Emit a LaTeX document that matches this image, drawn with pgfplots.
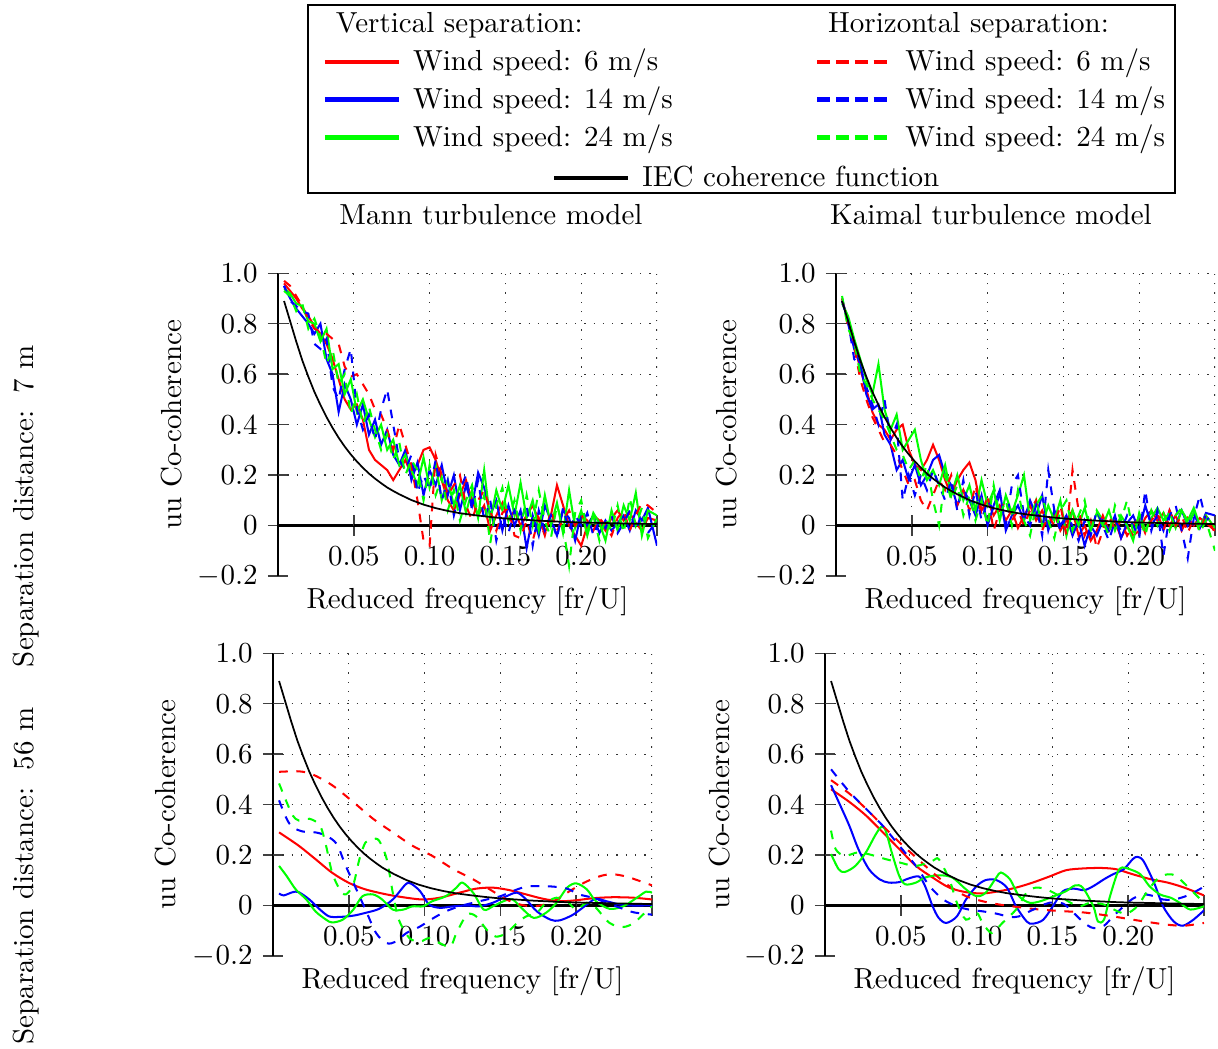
\documentclass[border=0pt]{standalone}
\usepackage{pgfplots}
\usepackage{pgfplotstable}
\pgfplotsset{compat=1.18}

\definecolor{cR}{rgb}{1,0,0}
\definecolor{cB}{rgb}{0,0,1}
\definecolor{cG}{rgb}{0,1,0}

% IEC coherence function
\pgfplotstableread{
x iec
0.004 0.89
0.008 0.81
0.012 0.73
0.016 0.655
0.020 0.59
0.024 0.53
0.028 0.478
0.032 0.43
0.036 0.387
0.040 0.348
0.044 0.313
0.048 0.282
0.052 0.254
0.056 0.229
0.060 0.206
0.064 0.186
0.068 0.168
0.072 0.151
0.076 0.137
0.080 0.124
0.088 0.101
0.096 0.083
0.104 0.069
0.112 0.058
0.120 0.049
0.130 0.041
0.140 0.034
0.150 0.028
0.160 0.024
0.170 0.020
0.180 0.017
0.190 0.014
0.200 0.012
0.215 0.010
0.230 0.008
0.250 0.006
}\iectab

% Mann, 7 m
\pgfplotstableread{
x rv bv gv rh bh gh
0.004 0.96 0.95 0.94 0.97 0.95 0.93
0.008 0.93 0.90 0.92 0.95 0.89 0.91
0.012 0.90 0.86 0.88 0.91 0.87 0.85
0.016 0.86 0.83 0.87 0.87 0.85 0.88
0.020 0.83 0.80 0.81 0.82 0.84 0.78
0.024 0.79 0.76 0.80 0.78 0.72 0.82
0.028 0.76 0.80 0.73 0.77 0.70 0.75
0.032 0.72 0.66 0.78 0.76 0.74 0.64
0.036 0.66 0.60 0.62 0.74 0.55 0.70
0.040 0.58 0.45 0.64 0.72 0.50 0.56
0.044 0.50 0.56 0.52 0.63 0.62 0.60
0.048 0.46 0.50 0.58 0.59 0.70 0.44
0.052 0.48 0.40 0.45 0.60 0.46 0.52
0.056 0.42 0.48 0.50 0.56 0.38 0.40
0.060 0.30 0.36 0.42 0.52 0.44 0.47
0.064 0.26 0.42 0.35 0.46 0.34 0.38
0.068 0.24 0.32 0.40 0.44 0.46 0.30
0.072 0.22 0.38 0.30 0.38 0.54 0.36
0.076 0.18 0.28 0.34 0.30 0.40 0.26
0.080 0.22 0.24 0.24 0.40 0.26 0.33
0.084 0.26 0.30 0.28 0.32 0.22 0.20
0.088 0.20 0.18 0.22 0.24 0.28 0.26
0.092 0.24 0.25 0.16 0.10 0.13 0.22
0.096 0.30 0.12 0.27 -0.06 0.20 0.10
0.100 0.31 0.22 0.15 -0.08 0.14 0.24
0.104 0.26 0.16 0.24 0.28 0.26 0.12
0.108 0.18 0.24 0.10 0.20 0.10 0.19
0.112 0.10 0.12 0.18 0.12 0.18 0.06
0.116 0.06 0.20 0.08 0.16 0.04 0.14
0.120 0.12 0.06 0.16 0.20 0.14 0.02
0.124 0.18 0.16 0.05 0.08 0.20 0.10
0.128 0.10 0.08 0.14 0.02 0.06 0.16
0.132 0.04 0.21 0.03 0.10 0.18 0.04
0.136 0.08 0.15 0.22 0.14 0.02 0.12
0.140 -0.02 0.04 0.02 0.06 0.10 -0.07
0.144 0.04 0.10 0.14 -0.02 -0.06 0.08
0.148 0.09 -0.02 0.06 0.05 0.04 0.15
0.152 0.02 0.08 0.16 0.07 -0.03 0.02
0.156 0.06 0.00 0.04 -0.04 0.06 0.10
0.160 0.00 0.06 0.17 -0.05 0.02 -0.02
0.164 0.04 -0.09 0.03 0.02 0.08 0.12
0.168 0.08 0.04 0.10 -0.06 -0.08 0.00
0.172 0.02 -0.04 -0.02 0.03 0.06 0.14
0.176 -0.03 0.08 0.12 -0.04 -0.02 0.02
0.180 0.04 0.02 0.00 0.06 0.04 -0.05
0.184 0.16 -0.04 0.09 -0.02 -0.05 0.08
0.188 0.08 0.06 -0.03 0.02 0.07 0.00
0.192 0.00 0.03 0.14 0.06 -0.02 -0.16
0.196 -0.04 -0.06 -0.01 0.00 0.04 0.05
0.200 -0.08 0.05 0.06 0.04 0.00 0.10
0.204 0.00 0.00 -0.04 0.02 0.05 -0.02
0.208 0.04 0.04 0.05 -0.02 -0.04 0.04
0.212 0.02 -0.03 0.01 0.03 0.02 -0.06
0.216 -0.02 0.02 -0.06 0.00 -0.01 0.03
0.220 0.03 -0.02 0.06 -0.04 0.04 -0.02
0.224 0.06 0.01 -0.02 0.03 -0.03 0.08
0.228 0.02 0.04 0.08 0.06 0.01 -0.03
0.232 0.05 -0.02 0.02 -0.02 0.06 0.11
0.236 0.01 0.06 0.13 0.04 -0.02 0.00
0.240 -0.02 0.02 -0.04 0.09 0.05 0.07
0.244 0.03 0.07 0.06 0.08 -0.03 -0.05
0.250 0.02 -0.08 0.04 0.05 0.02 0.03
}\tabML

% Kaimal, 7 m
\pgfplotstableread{
x rv bv gv rh bh gh
0.004 0.89 0.90 0.88 0.90 0.89 0.91
0.008 0.82 0.80 0.83 0.79 0.81 0.78
0.012 0.72 0.70 0.74 0.71 0.66 0.73
0.016 0.62 0.64 0.66 0.58 0.63 0.60
0.020 0.54 0.52 0.58 0.50 0.55 0.56
0.024 0.45 0.46 0.52 0.43 0.48 0.50
0.028 0.40 0.48 0.64 0.38 0.40 0.46
0.032 0.38 0.36 0.46 0.33 0.50 0.42
0.036 0.34 0.32 0.38 0.32 0.34 0.36
0.040 0.38 0.22 0.44 0.28 0.40 0.30
0.044 0.40 0.26 0.30 0.22 0.10 0.28
0.048 0.30 0.18 0.34 0.16 0.20 0.22
0.052 0.24 0.24 0.38 0.18 0.12 0.26
0.056 0.22 0.16 0.26 0.10 0.20 0.18
0.060 0.26 0.20 0.18 0.06 0.14 0.24
0.064 0.32 0.26 0.22 0.12 0.22 0.10
0.068 0.26 0.28 0.16 0.18 0.16 0.00
0.072 0.18 0.20 0.24 0.14 0.10 0.20
0.076 0.12 0.16 0.12 0.20 0.18 0.10
0.080 0.18 0.08 0.20 0.08 0.06 0.16
0.084 0.22 0.14 0.10 0.14 0.18 0.04
0.088 0.25 0.10 0.16 0.06 0.04 0.12
0.092 0.18 0.04 0.06 0.16 0.14 0.02
0.096 0.06 0.12 0.18 0.04 0.02 0.10
0.100 0.10 0.00 0.08 0.12 0.10 0.00
0.104 0.04 0.08 0.14 -0.02 0.06 0.16
0.108 0.08 0.14 0.02 0.06 0.12 0.04
0.112 0.02 -0.02 0.12 0.10 0.00 0.10
0.116 0.06 0.04 0.05 0.02 0.16 0.00
0.120 -0.01 0.08 0.12 0.06 0.20 0.14
0.124 0.04 0.02 0.20 0.00 0.04 0.02
0.128 0.08 0.10 0.02 0.06 0.00 -0.04
0.132 0.02 0.04 0.10 0.10 0.08 0.08
0.136 0.06 0.12 0.00 -0.02 -0.04 0.12
0.140 0.00 -0.02 0.08 0.04 0.22 0.02
0.144 0.05 0.06 0.02 0.00 0.06 -0.05
0.148 -0.02 0.00 0.10 0.08 -0.02 0.06
0.152 0.02 0.04 -0.04 -0.04 0.04 0.10
0.156 0.06 -0.04 0.06 0.22 0.00 -0.02
0.160 -0.04 0.02 0.00 0.06 -0.06 0.04
0.164 0.00 -0.08 0.07 -0.04 0.02 0.10
0.168 -0.06 0.00 -0.02 0.02 -0.04 -0.02
0.172 -0.02 -0.04 0.05 -0.09 0.06 0.06
0.176 0.04 0.02 0.00 -0.02 0.00 0.02
0.180 -0.02 -0.02 0.06 0.04 -0.06 -0.04
0.184 0.02 0.04 -0.02 -0.02 0.02 0.08
0.188 -0.05 -0.05 0.04 0.02 -0.02 0.02
0.192 0.00 0.01 0.00 -0.04 0.04 0.10
0.196 -0.04 0.04 -0.06 0.00 0.00 -0.03
0.200 -0.02 -0.02 0.05 0.03 -0.05 0.04
0.204 0.03 0.08 -0.02 -0.03 0.14 -0.04
0.208 0.06 0.00 0.03 0.02 -0.02 0.06
0.212 0.02 0.04 0.07 0.05 0.06 0.00
0.216 0.05 -0.02 0.02 -0.02 -0.12 0.05
0.220 0.00 0.06 0.05 0.06 0.04 -0.02
0.224 0.04 0.00 -0.01 0.00 0.08 0.04
0.228 -0.02 0.06 0.06 0.04 -0.02 0.07
0.232 0.03 0.00 0.02 -0.03 -0.13 0.00
0.236 0.00 0.05 0.07 0.03 0.03 0.05
0.240 0.03 -0.01 0.00 -0.02 0.12 -0.03
0.244 0.01 0.05 0.04 0.04 0.02 0.02
0.250 -0.02 0.04 -0.01 -0.03 0.05 -0.10
}\tabKL

\pgfplotsset{
  cohaxis/.style={
    scale only axis, width=130.7pt, height=104.4pt,
    xmin=0, xmax=0.25, ymin=-0.2, ymax=1.0,
    axis x line*=middle, axis y line*=left,
    x axis line style={line width=1.2pt},
    y axis line style={line width=0.8pt},
    xtick={0.05,0.1,0.15,0.2,0.25},
    xticklabels={0.05,0.10,0.15,0.20,},
    ytick={-0.2,0,0.2,0.4,0.6,0.8,1.0},
    yticklabels={$-0.2$,0,0.2,0.4,0.6,0.8,1.0},
    tick align=center, major tick length=7pt,
    major tick style={black!75, line width=0.5pt},
    hide obscured x ticks=false, hide obscured y ticks=false,
    xlabel={Reduced frequency [fr/U]}, ylabel={uu Co-coherence},
    every axis x label/.style={at={(axis description cs:0.5,0)}, anchor=north},
    legend image code/.code={\draw[##1] (0cm,0cm) -- (0.9cm,0cm);},
    every axis plot/.append style={line width=0.7pt},
  },
  ylabpos/.style={every axis y label/.style={at={(axis description cs:#1,0.5)}, rotate=90, anchor=base}},
}

\newcommand{\cohgrid}{%
  \pgfplotsinvokeforeach{0.05,0.1,0.15,0.2,0.25}{\draw[black!80, line width=0.45pt, dash pattern=on 0.45pt off 2.75pt] (axis cs:##1,0) -- (axis cs:##1,1);}%
  \pgfplotsinvokeforeach{0.2,0.4,0.6,0.8,1.0}{\draw[black!80, line width=0.45pt, dash pattern=on 0.45pt off 2.75pt] (axis cs:0,##1) -- (axis cs:0.25,##1);}%
}

\begin{document}
\begin{tikzpicture}[x=0.344828pt, y=0.344828pt]
\useasboundingbox (0,0) rectangle (1218,1048);
\coordinate (TL) at (278,472);
\coordinate (TR) at (836,472);
\coordinate (BL) at (273,92);
\coordinate (BR) at (825,92);

% ---------------- top left: Mann, 7 m
\begin{axis}[cohaxis, ylabpos=-0.2533, at={(TL)}, anchor=south west,
  legend columns=2, legend cell align=left,
  legend style={draw=none, fill=none, inner sep=0pt, at={(0.1161,1.8812)}, anchor=north west,
    /tikz/every odd column/.append style={column sep=2pt},
    /tikz/every even column/.append style={column sep=47pt}, row sep=0pt}]
\cohgrid
\addlegendimage{empty legend}\addlegendentry{\hspace*{-26.6pt}Vertical separation:}
\addlegendimage{empty legend}\addlegendentry{\hspace*{-26.6pt}Horizontal separation:}
\addlegendimage{cR, line width=1.6pt}\addlegendentry{Wind speed: 6 m/s}
\addlegendimage{cR, line width=1.6pt, dash pattern=on 4.5pt off 2pt}\addlegendentry{Wind speed: 6 m/s}
\addlegendimage{cB, line width=1.6pt}\addlegendentry{Wind speed: 14 m/s}
\addlegendimage{cB, line width=1.6pt, dash pattern=on 4.5pt off 2pt}\addlegendentry{Wind speed: 14 m/s}
\addlegendimage{cG, line width=1.6pt}\addlegendentry{Wind speed: 24 m/s}
\addlegendimage{cG, line width=1.6pt, dash pattern=on 4.5pt off 2pt}\addlegendentry{Wind speed: 24 m/s}
\addplot[cR, forget plot] table[x=x, y=rv] {\tabML};
\addplot[cB, forget plot] table[x=x, y=bv] {\tabML};
\addplot[cG, forget plot] table[x=x, y=gv] {\tabML};
\addplot[cR, dashed, forget plot] table[x=x, y=rh] {\tabML};
\addplot[cB, dashed, forget plot] table[x=x, y=bh] {\tabML};
\addplot[cG, dashed, forget plot] table[x=x, y=gh] {\tabML};
\addplot[black, line width=0.6pt, forget plot] table[x=x, y=iec] {\iectab};
\end{axis}

% ---------------- top right: Kaimal, 7 m
\begin{axis}[cohaxis, ylabpos=-0.2627, at={(TR)}, anchor=south west,
  legend style={draw=none, fill=none, inner sep=0pt, at={(-0.7513,1.3762)}, anchor=north west,
    /tikz/every odd column/.append style={column sep=2pt}}]
\cohgrid
\addlegendimage{black, line width=1.6pt}\addlegendentry{IEC coherence function}
\addplot[cR, forget plot] table[x=x, y=rv] {\tabKL};
\addplot[cB, forget plot] table[x=x, y=bv] {\tabKL};
\addplot[cG, forget plot] table[x=x, y=gv] {\tabKL};
\addplot[cR, dashed, forget plot] table[x=x, y=rh] {\tabKL};
\addplot[cB, dashed, forget plot] table[x=x, y=bh] {\tabKL};
\addplot[cG, dashed, forget plot] table[x=x, y=gh] {\tabKL};
\addplot[black, line width=0.6pt, forget plot] table[x=x, y=iec] {\iectab};
\end{axis}

% ---------------- bottom left: Mann, 56 m
\begin{axis}[cohaxis, ylabpos=-0.256, at={(BL)}, anchor=south west]
\cohgrid
\addplot[cR, smooth] coordinates {(0.004,0.29) (0.017,0.237) (0.028,0.184) (0.039,0.13) (0.05,0.09) (0.061,0.064) (0.075,0.044) (0.088,0.031) (0.099,0.024) (0.11,0.031) (0.123,0.051) (0.134,0.067) (0.145,0.071) (0.156,0.061) (0.167,0.044) (0.178,0.027) (0.189,0.017) (0.2,0.021) (0.211,0.029) (0.224,0.033) (0.238,0.031) (0.25,0.024)};
\addplot[cB, smooth] coordinates {(0.004,0.048) (0.007,0.04) (0.013,0.053) (0.017,0.053) (0.024,0.024) (0.031,-0.016) (0.037,-0.043) (0.044,-0.045) (0.053,-0.04) (0.061,-0.029) (0.07,-0.013) (0.079,0.024) (0.0875,0.084) (0.091,0.087) (0.097,0.057) (0.103,0.004) (0.11,-0.009) (0.119,-0.003) (0.128,0) (0.136,-0.003) (0.145,0.011) (0.154,0.037) (0.161,0.051) (0.167,0.024) (0.174,-0.023) (0.183,-0.056) (0.189,-0.059) (0.198,-0.036) (0.207,0.004) (0.213,0.027) (0.22,0.017) (0.229,0.004) (0.238,0) (0.25,0.001)};
\addplot[cG, smooth] coordinates {(0.004,0.157) (0.009,0.117) (0.015,0.064) (0.022,0.024) (0.028,-0.023) (0.035,-0.056) (0.039,-0.067) (0.046,-0.056) (0.053,-0.016) (0.059,0.037) (0.066,0.044) (0.072,0.024) (0.079,-0.016) (0.086,-0.016) (0.092,-0.003) (0.099,-0.003) (0.105,0.017) (0.114,0.037) (0.121,0.071) (0.125,0.091) (0.132,0.051) (0.139,-0.016) (0.145,-0.003) (0.152,0.017) (0.158,0.024) (0.165,-0.016) (0.172,-0.049) (0.18,-0.029) (0.187,0.011) (0.194,0.071) (0.2,0.088) (0.207,0.064) (0.213,0.017) (0.222,-0.013) (0.231,-0.003) (0.24,0.031) (0.246,0.055) (0.25,0.051)};
\addplot[cR, dashed, smooth] coordinates {(0.004,0.53) (0.017,0.532) (0.026,0.52) (0.039,0.477) (0.053,0.41) (0.066,0.344) (0.079,0.29) (0.092,0.237) (0.105,0.197) (0.119,0.144) (0.132,0.104) (0.143,0.064) (0.154,0.024) (0.163,0.004) (0.172,-0.003) (0.183,0.011) (0.194,0.051) (0.205,0.09) (0.216,0.117) (0.224,0.124) (0.233,0.115) (0.242,0.097) (0.25,0.08)};
\addplot[cB, dashed, smooth] coordinates {(0.004,0.417) (0.009,0.344) (0.013,0.31) (0.02,0.293) (0.028,0.29) (0.035,0.277) (0.042,0.244) (0.048,0.157) (0.055,0.064) (0.061,-0.016) (0.068,-0.109) (0.075,-0.149) (0.081,-0.143) (0.088,-0.109) (0.097,-0.083) (0.106,-0.049) (0.114,-0.023) (0.123,-0.003) (0.132,0.011) (0.141,0.024) (0.15,0.037) (0.158,0.057) (0.167,0.075) (0.176,0.077) (0.185,0.075) (0.194,0.067) (0.202,0.044) (0.211,0.031) (0.22,0.011) (0.229,-0.009) (0.238,-0.027) (0.25,-0.036)};
\addplot[cG, dashed, smooth] coordinates {(0.004,0.484) (0.009,0.41) (0.013,0.357) (0.017,0.337) (0.024,0.344) (0.031,0.317) (0.035,0.237) (0.039,0.13) (0.044,0.064) (0.048,0.044) (0.053,0.084) (0.057,0.184) (0.061,0.25) (0.066,0.264) (0.07,0.257) (0.075,0.184) (0.079,0.051) (0.083,-0.056) (0.09,-0.129) (0.097,-0.143) (0.103,-0.129) (0.11,-0.149) (0.117,-0.163) (0.121,-0.109) (0.128,-0.036) (0.134,-0.043) (0.141,-0.096) (0.147,-0.123) (0.154,-0.109) (0.161,-0.069) (0.167,-0.043) (0.174,-0.029) (0.18,0.011) (0.187,0.031) (0.194,0.017) (0.2,-0.016) (0.207,0.011) (0.213,-0.009) (0.222,-0.069) (0.231,-0.085) (0.238,-0.069) (0.244,-0.036) (0.25,-0.003)};
\addplot[black, line width=0.6pt] table[x=x, y=iec] {\iectab};
\end{axis}

% ---------------- bottom right: Kaimal, 56 m
\begin{axis}[cohaxis, ylabpos=-0.253, at={(BR)}, anchor=south west]
\cohgrid
\addplot[cR, smooth] coordinates {(0.004,0.461) (0.016,0.411) (0.027,0.357) (0.038,0.291) (0.049,0.224) (0.06,0.157) (0.071,0.111) (0.082,0.071) (0.093,0.053) (0.104,0.048) (0.115,0.057) (0.126,0.071) (0.137,0.091) (0.148,0.115) (0.159,0.14) (0.17,0.147) (0.182,0.149) (0.192,0.144) (0.203,0.124) (0.215,0.104) (0.226,0.091) (0.237,0.071) (0.25,0.04)};
\addplot[cB, smooth] coordinates {(0.004,0.477) (0.009,0.411) (0.016,0.317) (0.022,0.224) (0.029,0.144) (0.036,0.104) (0.042,0.091) (0.049,0.093) (0.055,0.107) (0.062,0.115) (0.066,0.077) (0.071,-0.003) (0.075,-0.049) (0.08,-0.069) (0.087,-0.043) (0.093,0.024) (0.1,0.077) (0.106,0.101) (0.113,0.101) (0.12,0.071) (0.126,-0.003) (0.133,-0.063) (0.137,-0.072) (0.144,-0.056) (0.151,0.004) (0.157,0.057) (0.164,0.067) (0.171,0.061) (0.177,0.077) (0.184,0.104) (0.19,0.124) (0.197,0.144) (0.203,0.184) (0.206,0.193) (0.21,0.177) (0.217,0.091) (0.223,-0.003) (0.23,-0.063) (0.236,-0.08) (0.243,-0.056) (0.25,-0.019)};
\addplot[cG, smooth] coordinates {(0.004,0.204) (0.009,0.144) (0.013,0.133) (0.02,0.157) (0.027,0.211) (0.033,0.277) (0.037,0.311) (0.04,0.297) (0.044,0.211) (0.049,0.117) (0.053,0.084) (0.06,0.091) (0.066,0.111) (0.075,0.12) (0.084,0.111) (0.093,0.064) (0.1,0.037) (0.106,0.051) (0.113,0.111) (0.116,0.131) (0.122,0.104) (0.128,0.037) (0.135,0.011) (0.142,0.017) (0.151,0.037) (0.159,0.057) (0.165,0.08) (0.17,0.071) (0.177,-0.003) (0.18,-0.063) (0.184,-0.056) (0.188,0.037) (0.193,0.131) (0.196,0.151) (0.201,0.144) (0.208,0.124) (0.214,0.077) (0.221,0.044) (0.228,0.031) (0.234,0.011) (0.241,-0.016) (0.25,-0.003)};
\addplot[cR, dashed, smooth] coordinates {(0.004,0.497) (0.016,0.444) (0.027,0.384) (0.038,0.317) (0.049,0.251) (0.06,0.191) (0.071,0.131) (0.082,0.077) (0.093,0.037) (0.104,0.017) (0.115,0.004) (0.126,-0.005) (0.137,-0.013) (0.148,-0.019) (0.159,-0.023) (0.17,-0.027) (0.182,-0.036) (0.192,-0.045) (0.203,-0.056) (0.215,-0.067) (0.226,-0.076) (0.237,-0.08) (0.25,-0.069)};
\addplot[cB, dashed, smooth] coordinates {(0.004,0.54) (0.016,0.451) (0.027,0.384) (0.038,0.317) (0.049,0.237) (0.06,0.157) (0.069,0.077) (0.078,0.024) (0.087,-0.003) (0.095,-0.016) (0.104,-0.023) (0.113,-0.032) (0.122,-0.045) (0.128,-0.043) (0.135,-0.023) (0.142,-0.003) (0.148,0.011) (0.157,0.008) (0.164,-0.029) (0.171,-0.069) (0.177,-0.089) (0.184,-0.08) (0.19,-0.043) (0.197,-0.003) (0.203,0.027) (0.21,0.044) (0.217,0.037) (0.223,0.024) (0.23,0.024) (0.237,0.035) (0.243,0.051) (0.25,0.075)};
\addplot[cG, dashed, smooth] coordinates {(0.004,0.297) (0.007,0.224) (0.013,0.197) (0.022,0.211) (0.031,0.2) (0.04,0.184) (0.049,0.171) (0.06,0.157) (0.071,0.177) (0.075,0.184) (0.082,0.104) (0.087,0.011) (0.093,-0.056) (0.1,-0.029) (0.104,-0.069) (0.11,-0.109) (0.117,-0.069) (0.126,-0.016) (0.133,0.051) (0.139,0.071) (0.146,0.064) (0.155,0.037) (0.162,0.011) (0.168,-0.003) (0.175,0.011) (0.184,0.004) (0.193,-0.023) (0.199,-0.032) (0.206,-0.003) (0.212,0.051) (0.219,0.104) (0.226,0.124) (0.232,0.115) (0.241,0.064) (0.25,0.011)};
\addplot[black, line width=0.6pt] table[x=x, y=iec] {\iectab};
\end{axis}

% legend frame, column titles, row titles
\draw[line width=0.8pt] (308,1043) rectangle (1175,855);
\node[anchor=base] at (491,824) {Mann turbulence model};
\node[anchor=base] at (991,824) {Kaimal turbulence model};
\node[rotate=90, anchor=base] at (34,542) {Separation distance:\hspace{6pt}7 m};
\node[rotate=90, anchor=base] at (34,172) {Separation distance:\hspace{6pt}56 m};
\end{tikzpicture}
\end{document}
